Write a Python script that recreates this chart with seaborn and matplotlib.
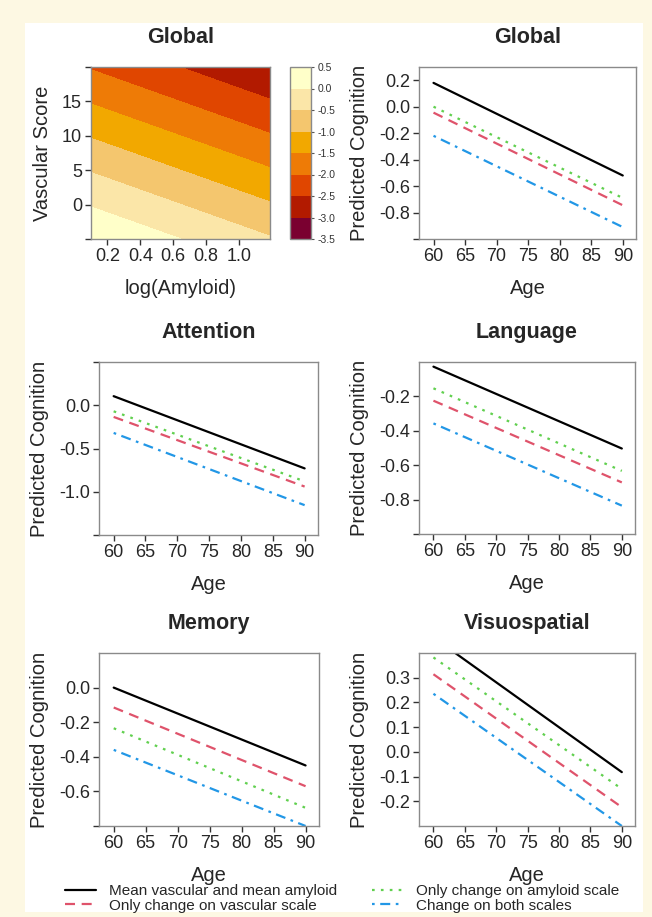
import numpy as np
import pandas as pd
import matplotlib
matplotlib.use("Agg")
import matplotlib.pyplot as plt
import seaborn as sns
from matplotlib.patches import Rectangle
from matplotlib.colors import ListedColormap, BoundaryNorm
from matplotlib.lines import Line2D

# ---------------- data ----------------
ages = [60, 90]
scenarios = [
    "Mean vascular and mean amyloid",
    "Only change on vascular scale",
    "Only change on amyloid scale",
    "Change on both scales",
]

global_mean = [0.18, -0.52]
global_vasc = [-0.045, -0.745]
global_amy = [0.0, -0.69]
global_both = [-0.22, -0.91]

attention_mean = [0.105, -0.73]
attention_vasc = [-0.135, -0.94]
attention_amy = [-0.07, -0.88]
attention_both = [-0.32, -1.155]

language_mean = [-0.027, -0.503]
language_vasc = [-0.225, -0.70]
language_amy = [-0.153, -0.633]
language_both = [-0.357, -0.835]

memory_mean = [0.0, -0.45]
memory_vasc = [-0.115, -0.57]
memory_amy = [-0.235, -0.695]
memory_both = [-0.36, -0.80]

visuo_mean = [0.463, -0.082]
visuo_vasc = [0.314, -0.224]
visuo_amy = [0.382, -0.15]
visuo_both = [0.235, -0.30]

# contour surface (predicted global cognition) at the corners of the grid
amyloid_edges = [0.1, 1.19]
vascular_edges = [-5, 20]
cognition_corners = [[0.47, -0.46],    # vascular = -5  (amyloid low, high)
                     [-2.04, -2.97]]   # vascular = 20
contour_levels = [-3.5, -3.0, -2.5, -2.0, -1.5, -1.0, -0.5, 0.0, 0.5]
contour_labels = ["-3.5", "-3.0", "-2.5", "-2.0", "-1.5", "-1.0", "-0.5", "0.0", "0.5"]
contour_colors = ["#7A0030", "#B21A00", "#E04600", "#EE7B06", "#F2A800",
                  "#F4C66E", "#FBE6A8", "#FFFFC9"]

palette = {scenarios[0]: "#000000", scenarios[1]: "#DF536B",
           scenarios[2]: "#61D04F", scenarios[3]: "#2297E6"}
dashes = {scenarios[0]: "", scenarios[1]: (4.5, 3.0),
          scenarios[2]: (1.2, 2.8), scenarios[3]: (1.2, 2.5, 4.5, 2.5)}

# ---------------- style ----------------
sns.set_style("white")
plt.rcParams["font.family"] = ["Liberation Sans", "DejaVu Sans"]

W, H = 652, 917
fig = plt.figure(figsize=(W / 100, H / 100), dpi=100, facecolor="#FDF8E3")
fig.patches.append(Rectangle((25 / W, 1 - 912 / H), (643 - 25) / W, (912 - 23) / H,
                             transform=fig.transFigure, facecolor="white",
                             edgecolor="none", zorder=-10))


def rect(l, r, t, b):
    return [l / W, 1 - b / H, (r - l) / W, (b - t) / H]


TICK = 13
LAB = 14.5
TIT = 15.5
SPINE = "#8a8a8a"


def style_axes(ax):
    for s in ax.spines.values():
        s.set_color(SPINE)
        s.set_linewidth(1.0)
        s.set_visible(True)
    ax.tick_params(direction="out", length=4, width=1, color="#333333",
                   labelsize=TICK, pad=2.5, left=True, bottom=True)


def line_panel(box, title, mean, vasc, amy, both, ylim, yticks, ylabels):
    ax = fig.add_axes(rect(*box))
    df = pd.DataFrame({
        "Age": ages * 4,
        "Cognition": list(mean) + list(vasc) + list(amy) + list(both),
        "Scenario": np.repeat(scenarios, len(ages)),
    })
    sns.lineplot(data=df, x="Age", y="Cognition", hue="Scenario", style="Scenario",
                 hue_order=scenarios, style_order=scenarios,
                 palette=palette, dashes=dashes, linewidth=1.6, ax=ax, legend=False)
    ax.set_xlim(57.7, 92.1)
    ax.set_ylim(*ylim)
    ax.set_xticks([60, 65, 70, 75, 80, 85, 90])
    ax.set_yticks(yticks)
    ax.set_yticklabels(ylabels)
    ax.set_xlabel("Age", fontsize=LAB, labelpad=10)
    ax.set_ylabel("Predicted Cognition", fontsize=LAB, labelpad=7)
    ax.set_title(title, fontsize=TIT, fontweight="bold", pad=17)
    style_axes(ax)
    return ax


# ---------------- heatmap panel ----------------
axh = fig.add_axes(rect(91, 270, 67, 239))
cmap = ListedColormap(contour_colors)
norm = BoundaryNorm(contour_levels, cmap.N)
cf = axh.contourf(amyloid_edges, vascular_edges, np.array(cognition_corners),
                  levels=contour_levels, cmap=cmap, norm=norm)
axh.set_xlim(amyloid_edges)
axh.set_ylim(vascular_edges)
axh.set_xticks([0.2, 0.4, 0.6, 0.8, 1.0])
axh.set_xticklabels(["0.2", "0.4", "0.6", "0.8", "1.0"])
axh.set_yticks([-5, 0, 5, 10, 15, 20])
axh.set_yticklabels(["", "0", "5", "10", "15", ""])
axh.set_xlabel("log(Amyloid)", fontsize=LAB, labelpad=10)
axh.set_ylabel("Vascular Score", fontsize=LAB, labelpad=7)
axh.set_title("Global", fontsize=TIT, fontweight="bold", pad=17)
style_axes(axh)

cax = fig.add_axes(rect(290, 311, 67, 239))
cb = fig.colorbar(cf, cax=cax, ticks=contour_levels)
cb.ax.set_yticklabels(contour_labels)
cb.ax.tick_params(labelsize=7.5, length=2.5, width=0.8, color="#555555",
                  labelcolor="#333333", pad=2)
cb.outline.set_edgecolor(SPINE)
cb.outline.set_linewidth(1.0)

# ---------------- line panels ----------------
line_panel((419, 636, 67, 239), "Global", global_mean, global_vasc, global_amy, global_both,
           (-1.0, 0.3), [-1.0, -0.8, -0.6, -0.4, -0.2, 0.0, 0.2],
           ["", "-0.8", "-0.6", "-0.4", "-0.2", "0.0", "0.2"])
line_panel((99, 318, 362, 535), "Attention", attention_mean, attention_vasc,
           attention_amy, attention_both,
           (-1.5, 0.5), [-1.5, -1.0, -0.5, 0.0, 0.5], ["", "-1.0", "-0.5", "0.0", ""])
line_panel((419, 635, 362, 534), "Language", language_mean, language_vasc,
           language_amy, language_both,
           (-1.0, 0.0), [-1.0, -0.8, -0.6, -0.4, -0.2], ["", "-0.8", "-0.6", "-0.4", "-0.2"])
line_panel((99, 319, 653, 826), "Memory", memory_mean, memory_vasc, memory_amy, memory_both,
           (-0.8, 0.2), [-0.8, -0.6, -0.4, -0.2, 0.0], ["", "-0.6", "-0.4", "-0.2", "0.0"])
line_panel((419, 635, 653, 826), "Visuospatial", visuo_mean, visuo_vasc,
           visuo_amy, visuo_both,
           (-0.3, 0.4), [-0.2, -0.1, 0.0, 0.1, 0.2, 0.3],
           ["-0.2", "-0.1", "0.0", "0.1", "0.2", "0.3"])

# ---------------- legend ----------------
handles = {}
for s in scenarios:
    h = Line2D([], [], color=palette[s], linewidth=1.6)
    if dashes[s]:
        h.set_dashes(dashes[s])
    handles[s] = h

leg_kw = dict(frameon=False, fontsize=11, borderpad=0, borderaxespad=0,
              handlelength=2.0, handletextpad=0.85, labelspacing=0.05)
fig.legend([handles[scenarios[0]], handles[scenarios[1]]], scenarios[:2],
           loc="upper left", bbox_to_anchor=(65 / W, 1 - 884 / H), **leg_kw)
fig.legend([handles[scenarios[2]], handles[scenarios[3]]], scenarios[2:],
           loc="upper left", bbox_to_anchor=(372 / W, 1 - 884 / H), **leg_kw)

fig.savefig("out.png", dpi=100, facecolor=fig.get_facecolor())
